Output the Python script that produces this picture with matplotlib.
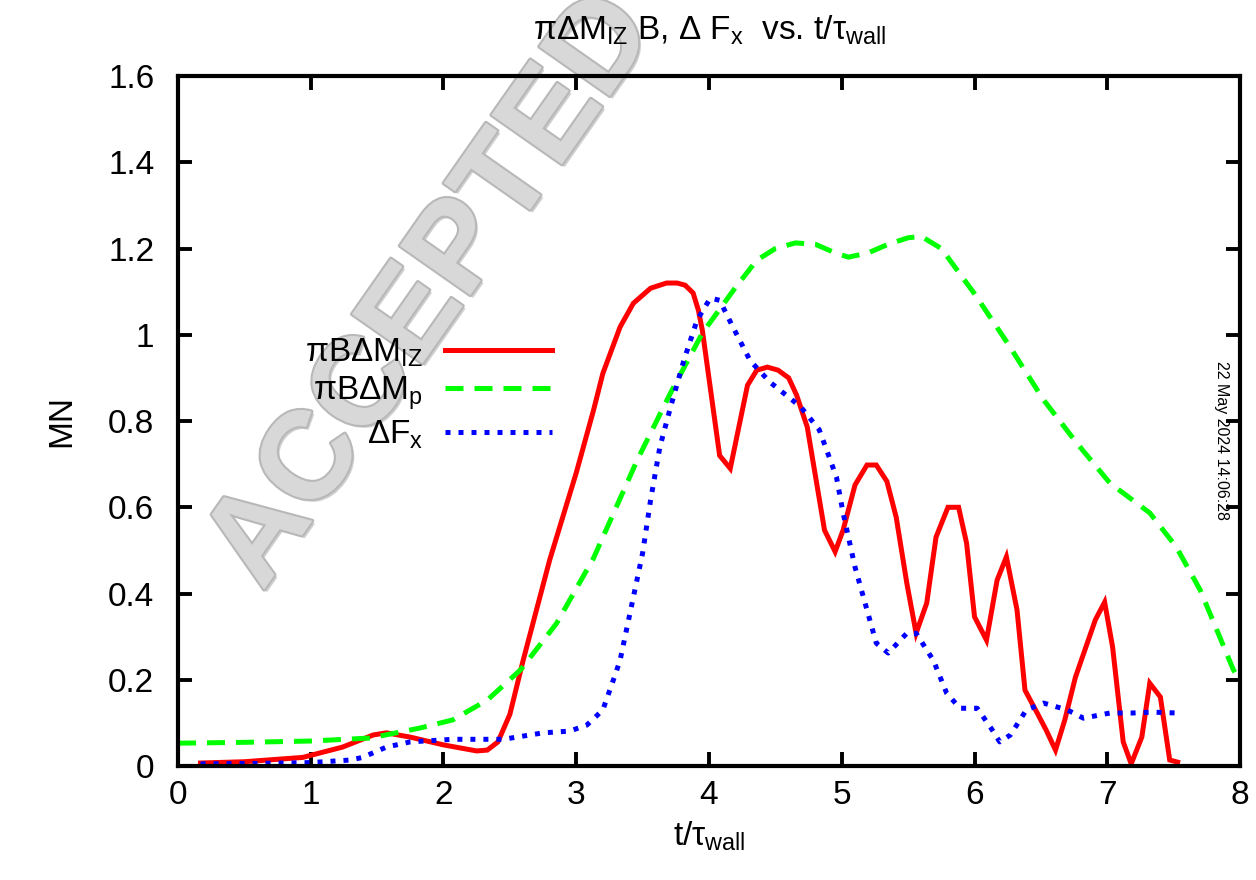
import matplotlib
matplotlib.use("Agg")
import matplotlib.pyplot as plt
import matplotlib.patheffects as pe

plt.rcParams['font.family'] = ['Liberation Sans', 'DejaVu Sans']
plt.rcParams['mathtext.fontset'] = 'custom'
plt.rcParams['mathtext.rm'] = 'Liberation Sans'
plt.rcParams['mathtext.it'] = 'Liberation Sans'
plt.rcParams['mathtext.bf'] = 'Liberation Sans:bold'

# pi*B*dM_IZ (solid red)
red_t = [0.17, 0.5, 0.94, 1.24, 1.47, 1.57, 1.75, 2.0, 2.25, 2.33, 2.41, 2.5, 2.6,
         2.8, 3.0, 3.13, 3.2, 3.33, 3.43, 3.56, 3.68, 3.76, 3.82, 3.88, 3.92, 3.95,
         4.08, 4.16, 4.29, 4.36, 4.44, 4.52, 4.6, 4.66, 4.74, 4.87, 4.95, 5.01, 5.1,
         5.19, 5.26, 5.34, 5.41, 5.49, 5.56, 5.64, 5.71, 5.8, 5.88, 5.94, 6.0, 6.09,
         6.17, 6.24, 6.32, 6.38, 6.46, 6.54, 6.61, 6.68, 6.76, 6.91, 6.98, 7.04, 7.12,
         7.18, 7.26, 7.32, 7.4, 7.47, 7.53]
red_y = [0.007, 0.01, 0.02, 0.044, 0.072, 0.077, 0.067, 0.049, 0.035, 0.037, 0.056,
         0.12, 0.245, 0.478, 0.68, 0.825, 0.91, 1.018, 1.073, 1.108, 1.12, 1.12, 1.115,
         1.097, 1.057, 1.01, 0.72, 0.69, 0.883, 0.918, 0.925, 0.918, 0.9, 0.86, 0.786,
         0.547, 0.497, 0.547, 0.652, 0.698, 0.698, 0.66, 0.577, 0.424, 0.308, 0.378,
         0.531, 0.6, 0.6, 0.517, 0.346, 0.292, 0.431, 0.485, 0.362, 0.176, 0.13, 0.083,
         0.037, 0.107, 0.206, 0.339, 0.38, 0.276, 0.056, 0.005, 0.067, 0.192, 0.16,
         0.014, 0.009]

# pi*B*dM_p (dashed green)
green_t = [0, 0.5, 1.0, 1.45, 1.82, 2.07, 2.33, 2.58, 2.85, 3.13, 3.46, 3.71, 3.95,
           4.2, 4.36, 4.5, 4.65, 4.8, 4.95, 5.05, 5.2, 5.35, 5.5, 5.6, 5.75, 6.0,
           6.25, 6.52, 6.77, 7.02, 7.32, 7.52, 7.7, 7.95, 8.0]
green_y = [0.053, 0.055, 0.058, 0.065, 0.088, 0.107, 0.153, 0.223, 0.33, 0.482, 0.71,
           0.865, 1.004, 1.11, 1.173, 1.2, 1.213, 1.21, 1.19, 1.18, 1.19, 1.21, 1.225,
           1.228, 1.2, 1.095, 0.98, 0.849, 0.749, 0.656, 0.587, 0.508, 0.408, 0.223, 0.2]

# dF_x (dotted blue)
blue_t = [0.17, 0.6, 1.0, 1.3, 1.39, 1.57, 1.75, 2.07, 2.45, 2.75, 2.95, 3.08, 3.2,
          3.28, 3.33, 3.5, 3.56, 3.63, 3.71, 3.81, 3.91, 4.01, 4.08, 4.18, 4.31, 4.46,
          4.69, 4.83, 4.96, 5.01, 5.1, 5.19, 5.26, 5.35, 5.49, 5.56, 5.69, 5.79, 5.89,
          6.02, 6.12, 6.19, 6.27, 6.39, 6.52, 6.7, 6.82, 7.02, 7.19, 7.34, 7.52]
blue_y = [0.005, 0.006, 0.008, 0.014, 0.02, 0.044, 0.056, 0.062, 0.062, 0.077, 0.081,
          0.095, 0.13, 0.2, 0.245, 0.494, 0.617, 0.74, 0.832, 0.94, 1.034, 1.085, 1.08,
          1.018, 0.94, 0.89, 0.833, 0.78, 0.67, 0.587, 0.461, 0.362, 0.285, 0.262,
          0.308, 0.308, 0.245, 0.169, 0.134, 0.134, 0.09, 0.056, 0.072, 0.13, 0.146,
          0.13, 0.111, 0.123, 0.123, 0.125, 0.123]

xticks = [0, 1, 2, 3, 4, 5, 6, 7, 8]
yticks = [0, 0.2, 0.4, 0.6, 0.8, 1.0, 1.2, 1.4, 1.6]
ytick_labels = ["0", "0.2", "0.4", "0.6", "0.8", "1", "1.2", "1.4", "1.6"]

fs = 24

fig = plt.figure(figsize=(12.56, 8.8), dpi=100)
ax = fig.add_axes([0.1417, 0.1295, 0.8456, 0.7841])
ax.set_facecolor('none')

# stamp across the plot, drawn underneath everything
fig.text(0.345, 0.668, "ACCEPTED", fontsize=90, fontweight='bold', rotation=55,
         color='#d8d8d8', ha='center', va='center', zorder=-1,
         path_effects=[pe.SimplePatchShadow(offset=(2, -2), shadow_rgbFace='#a0a0a0', alpha=0.5),
                       pe.Stroke(linewidth=3, foreground='#b8b8b8'), pe.Normal()])

lw = 3.6
ax.plot(red_t, red_y, color='#ff0000', lw=lw, solid_joinstyle='miter',
        label=r'$\pi$B$\Delta$M$_{\mathrm{IZ}}$')
ax.plot(green_t, green_y, color='#00ff00', lw=lw, linestyle=(0, (3.6, 2.2)),
        label=r'$\pi$B$\Delta$M$_{\mathrm{p}}$')
ax.plot(blue_t, blue_y, color='#0000ff', lw=lw, linestyle=(0, (1, 1.6)),
        label=r'$\Delta$F$_{\mathrm{x}}$')

ax.set_xlim(0, 8)
ax.set_ylim(0, 1.6)
ax.set_xticks(xticks)
ax.set_yticks(yticks)
ax.set_yticklabels(ytick_labels)
ax.tick_params(direction='in', length=10, width=2.8, labelsize=fs,
               top=True, right=True)
ax.tick_params(axis='x', pad=10)
ax.tick_params(axis='y', pad=17)
for s in ax.spines.values():
    s.set_linewidth(3)

ax.set_title(r'$\pi\Delta$M$_{\mathrm{IZ}}$ B, $\Delta$ F$_{\mathrm{x}}$  vs. t/$\tau_{\mathrm{wall}}$',
             fontsize=fs, pad=26)
ax.set_xlabel(r't/$\tau_{\mathrm{wall}}$', fontsize=fs, labelpad=6)
ax.set_ylabel('MN', fontsize=fs, labelpad=22)

ax.legend(loc='center right', bbox_to_anchor=(0.352, 0.54), frameon=False,
          markerfirst=False, fontsize=fs, handlelength=3.2, handletextpad=0.66,
          labelspacing=0.18, borderpad=0, borderaxespad=0)

fig.text(0.9725, 0.5, "22 May 2024 14:06:28", rotation=270, fontsize=11.5,
         ha='center', va='center')

fig.savefig("out.png", dpi=100)
